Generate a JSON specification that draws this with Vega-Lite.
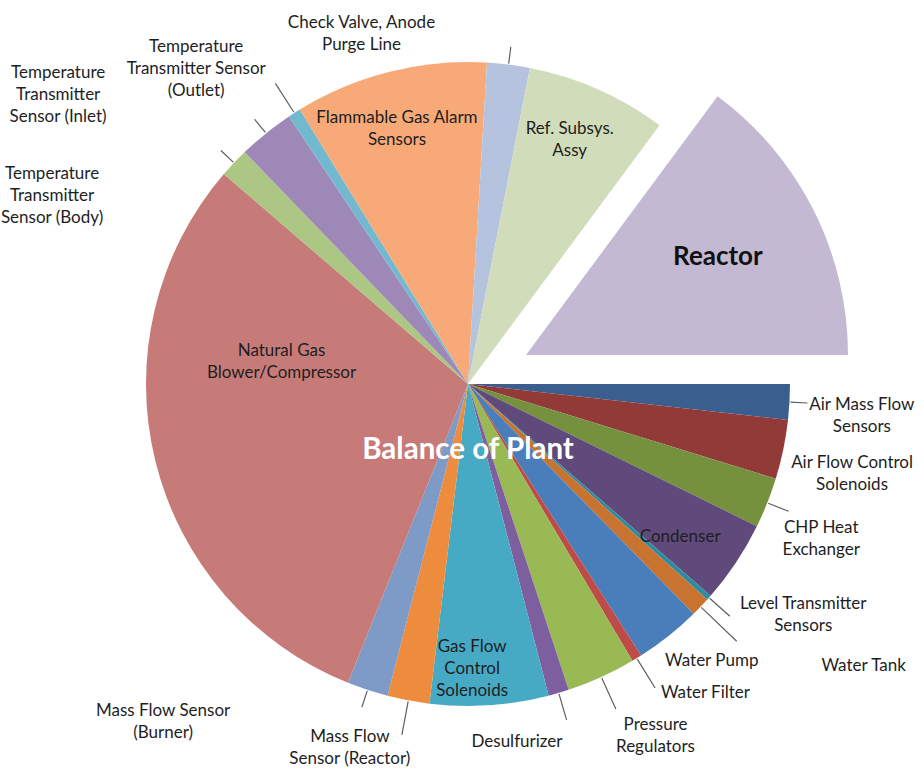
{
  "$schema": "https://vega.github.io/schema/vega-lite/v6.json",
  "width": 912,
  "height": 768,
  "autosize": "none",
  "padding": {"left": 12, "top": 0, "right": 0, "bottom": 4},
  "background": "white",
  "config": {
    "view": {"stroke": null},
    "text": {"font": "Lato", "fontSize": 17, "lineHeight": 22, "lineBreak": "\n", "color": "#1e1e1e", "align": "center", "baseline": "middle"}
  },
  "data": {
    "values": [
      {"order": 1, "part": "Air Mass Flow Sensors", "label": "Air Mass Flow\nSensors", "share": 1.78},
      {"order": 2, "part": "Air Flow Control Solenoids", "label": "Air Flow Control\nSolenoids", "share": 2.97},
      {"order": 3, "part": "CHP Heat Exchanger", "label": "CHP Heat\nExchanger", "share": 2.53},
      {"order": 4, "part": "Condenser", "label": "Condenser", "share": 4.14},
      {"order": 5, "part": "Level Transmitter Sensors", "label": "Level Transmitter\nSensors", "share": 0.25},
      {"order": 6, "part": "Water Tank", "label": "Water Tank", "share": 0.97},
      {"order": 7, "part": "Water Pump", "label": "Water Pump", "share": 3.33},
      {"order": 8, "part": "Water Filter", "label": "Water Filter", "share": 0.5},
      {"order": 9, "part": "Pressure Regulators", "label": "Pressure\nRegulators", "share": 3.47},
      {"order": 10, "part": "Desulfurizer", "label": "Desulfurizer", "share": 1.03},
      {"order": 11, "part": "Gas Flow Control Solenoids", "label": "Gas Flow\nControl\nSolenoids", "share": 5.94},
      {"order": 12, "part": "Mass Flow Sensor (Reactor)", "label": "Mass Flow\nSensor (Reactor)", "share": 2.11},
      {"order": 13, "part": "Mass Flow Sensor (Burner)", "label": "Mass Flow Sensor\n(Burner)", "share": 2.06},
      {"order": 14, "part": "Natural Gas Blower/Compressor", "label": "Natural Gas\nBlower/Compressor", "share": 30.22},
      {"order": 15, "part": "Temperature Transmitter Sensor (Body)", "label": "Temperature\nTransmitter\nSensor (Body)", "share": 1.5},
      {"order": 16, "part": "Temperature Transmitter Sensor (Inlet)", "label": "Temperature\nTransmitter\nSensor (Inlet)", "share": 2.81},
      {"order": 17, "part": "Temperature Transmitter Sensor (Outlet)", "label": "Temperature\nTransmitter Sensor\n(Outlet)", "share": 0.64},
      {"order": 18, "part": "Flammable Gas Alarm Sensors", "label": "Flammable Gas Alarm\nSensors", "share": 9.69},
      {"order": 19, "part": "Check Valve, Anode Purge Line", "label": "Check Valve, Anode\nPurge Line", "share": 2.14},
      {"order": 20, "part": "Ref. Subsys. Assy", "label": "Ref. Subsys.\nAssy", "share": 7.06},
      {"order": 21, "part": "Reactor", "label": "Reactor", "share": 14.86}
    ]
  },
  "transform": [
    {"stack": "share", "groupby": [], "sort": [{"field": "order", "order": "ascending"}], "as": ["s0", "s1"]},
    {"calculate": "(datum.s0 + datum.s1) / 2", "as": "mid"}
  ],
  "layer": [
    {
      "transform": [{"filter": "datum.part !== 'Reactor'"}],
      "mark": {"type": "arc", "outerRadius": 322, "stroke": null},
      "encoding": {
        "theta": {"field": "s0", "type": "quantitative", "stack": null, "scale": {"domain": [0, 100], "range": [1.5708, 7.854]}},
        "theta2": {"field": "s1"},
        "color": {
          "field": "part", "type": "nominal", "legend": null,
          "scale": {
            "domain": ["Air Mass Flow Sensors", "Air Flow Control Solenoids", "CHP Heat Exchanger", "Condenser", "Level Transmitter Sensors", "Water Tank", "Water Pump", "Water Filter", "Pressure Regulators", "Desulfurizer", "Gas Flow Control Solenoids", "Mass Flow Sensor (Reactor)", "Mass Flow Sensor (Burner)", "Natural Gas Blower/Compressor", "Temperature Transmitter Sensor (Body)", "Temperature Transmitter Sensor (Inlet)", "Temperature Transmitter Sensor (Outlet)", "Flammable Gas Alarm Sensors", "Check Valve, Anode Purge Line", "Ref. Subsys. Assy", "Reactor"],
            "range": ["#3A5F8F", "#923A38", "#76913E", "#5F4A7B", "#2E8CA0", "#C8732F", "#4A7EBB", "#BE4B48", "#98B954", "#7D5FA0", "#46AAC5", "#EE8C3D", "#7E9BC8", "#C77B79", "#ABC783", "#9E88B8", "#72B9D0", "#F7A977", "#B5C3DE", "#D1DDBA", "#C3B9D2"]
          }
        }
      }
    },
    {
      "transform": [{"filter": "datum.part === 'Reactor'"}],
      "mark": {"type": "arc", "outerRadius": 322, "stroke": null, "xOffset": 58, "yOffset": -29},
      "encoding": {
        "theta": {"field": "s0", "type": "quantitative", "stack": null, "scale": {"domain": [0, 100], "range": [1.5708, 7.854]}},
        "theta2": {"field": "s1"},
        "color": {"field": "part", "type": "nominal", "legend": null}
      }
    },
    {
      "transform": [{"filter": {"field": "part", "oneOf": ["Air Mass Flow Sensors", "Mass Flow Sensor (Burner)", "Temperature Transmitter Sensor (Body)", "Temperature Transmitter Sensor (Inlet)", "Check Valve, Anode Purge Line"]}}],
      "mark": {"type": "arc", "outerRadius": 340, "innerRadius": 323, "filled": false, "stroke": "#5f5f5f", "strokeWidth": 1.2},
      "encoding": {"theta": {"field": "mid", "type": "quantitative", "stack": null}, "theta2": {"field": "mid"}}
    },
    {
      "transform": [{"filter": {"field": "part", "oneOf": ["CHP Heat Exchanger"]}}],
      "mark": {"type": "arc", "outerRadius": 345, "innerRadius": 323, "filled": false, "stroke": "#5f5f5f", "strokeWidth": 1.2},
      "encoding": {"theta": {"field": "mid", "type": "quantitative", "stack": null}, "theta2": {"field": "mid"}}
    },
    {
      "transform": [{"filter": {"field": "part", "oneOf": ["Level Transmitter Sensors", "Desulfurizer"]}}],
      "mark": {"type": "arc", "outerRadius": 350, "innerRadius": 323, "filled": false, "stroke": "#5f5f5f", "strokeWidth": 1.2},
      "encoding": {"theta": {"field": "mid", "type": "quantitative", "stack": null}, "theta2": {"field": "mid"}}
    },
    {
      "transform": [{"filter": {"field": "part", "oneOf": ["Water Filter", "Pressure Regulators", "Mass Flow Sensor (Reactor)", "Temperature Transmitter Sensor (Outlet)"]}}],
      "mark": {"type": "arc", "outerRadius": 357, "innerRadius": 323, "filled": false, "stroke": "#5f5f5f", "strokeWidth": 1.2},
      "encoding": {"theta": {"field": "mid", "type": "quantitative", "stack": null}, "theta2": {"field": "mid"}}
    },
    {
      "transform": [{"filter": {"field": "part", "equal": "Water Tank"}}],
      "mark": {"type": "arc", "outerRadius": 372, "innerRadius": 323, "filled": false, "stroke": "#5f5f5f", "strokeWidth": 1.2},
      "encoding": {"theta": {"field": "mid", "type": "quantitative", "stack": null}, "theta2": {"field": "mid"}}
    },
    {"transform": [{"filter": {"field": "part", "equal": "Air Mass Flow Sensors"}}], "mark": {"type": "text", "radius": 395, "thetaOffset": 0.02, "dy": -9}, "encoding": {"theta": {"field": "mid", "type": "quantitative", "stack": null}, "text": {"field": "label"}}},
    {"transform": [{"filter": {"field": "part", "equal": "Air Flow Control Solenoids"}}], "mark": {"type": "text", "radius": 394, "thetaOffset": 0.02, "dy": -9}, "encoding": {"theta": {"field": "mid", "type": "quantitative", "stack": null}, "text": {"field": "label"}}},
    {"transform": [{"filter": {"field": "part", "equal": "CHP Heat Exchanger"}}], "mark": {"type": "text", "radius": 385, "thetaOffset": 0.031, "dy": -9}, "encoding": {"theta": {"field": "mid", "type": "quantitative", "stack": null}, "text": {"field": "label"}}},
    {"transform": [{"filter": {"field": "part", "equal": "Condenser"}}], "mark": {"type": "text", "radius": 261, "thetaOffset": 0.034, "dy": 1}, "encoding": {"theta": {"field": "mid", "type": "quantitative", "stack": null}, "text": {"field": "label"}}},
    {"transform": [{"filter": {"field": "part", "equal": "Level Transmitter Sensors"}}], "mark": {"type": "text", "radius": 406, "thetaOffset": -0.126, "dy": -9}, "encoding": {"theta": {"field": "mid", "type": "quantitative", "stack": null}, "text": {"field": "label"}}},
    {"transform": [{"filter": {"field": "part", "equal": "Water Tank"}}], "mark": {"type": "text", "radius": 485, "thetaOffset": -0.147, "dy": 1}, "encoding": {"theta": {"field": "mid", "type": "quantitative", "stack": null}, "text": {"field": "label"}}},
    {"transform": [{"filter": {"field": "part", "equal": "Water Pump"}}], "mark": {"type": "text", "radius": 368, "thetaOffset": -0.052, "dy": 1}, "encoding": {"theta": {"field": "mid", "type": "quantitative", "stack": null}, "text": {"field": "label"}}},
    {"transform": [{"filter": {"field": "part", "equal": "Water Filter"}}], "mark": {"type": "text", "radius": 389, "thetaOffset": -0.105, "dy": 1}, "encoding": {"theta": {"field": "mid", "type": "quantitative", "stack": null}, "text": {"field": "label"}}},
    {"transform": [{"filter": {"field": "part", "equal": "Pressure Regulators"}}], "mark": {"type": "text", "radius": 397, "thetaOffset": -0.065, "dy": -9}, "encoding": {"theta": {"field": "mid", "type": "quantitative", "stack": null}, "text": {"field": "label"}}},
    {"transform": [{"filter": {"field": "part", "equal": "Desulfurizer"}}], "mark": {"type": "text", "radius": 360, "thetaOffset": 0.149, "dy": 1}, "encoding": {"theta": {"field": "mid", "type": "quantitative", "stack": null}, "text": {"field": "label"}}},
    {"transform": [{"filter": {"field": "part", "equal": "Gas Flow Control Solenoids"}}], "mark": {"type": "text", "radius": 283, "thetaOffset": 0.052, "dy": -20}, "encoding": {"theta": {"field": "mid", "type": "quantitative", "stack": null}, "text": {"field": "label"}}},
    {"transform": [{"filter": {"field": "part", "equal": "Mass Flow Sensor (Reactor)"}}], "mark": {"type": "text", "radius": 381, "thetaOffset": 0.129, "dy": -9}, "encoding": {"theta": {"field": "mid", "type": "quantitative", "stack": null}, "text": {"field": "label"}}},
    {"transform": [{"filter": {"field": "part", "equal": "Mass Flow Sensor (Burner)"}}], "mark": {"type": "text", "radius": 454, "thetaOffset": 0.419, "dy": -9}, "encoding": {"theta": {"field": "mid", "type": "quantitative", "stack": null}, "text": {"field": "label"}}},
    {"transform": [{"filter": {"field": "part", "equal": "Natural Gas Blower/Compressor"}}], "mark": {"type": "text", "radius": 188, "thetaOffset": 0.367, "dy": -9}, "encoding": {"theta": {"field": "mid", "type": "quantitative", "stack": null}, "text": {"field": "label"}}},
    {"transform": [{"filter": {"field": "part", "equal": "Temperature Transmitter Sensor (Body)"}}], "mark": {"type": "text", "radius": 457, "thetaOffset": -0.33, "dy": -21}, "encoding": {"theta": {"field": "mid", "type": "quantitative", "stack": null}, "text": {"field": "label"}}},
    {"transform": [{"filter": {"field": "part", "equal": "Temperature Transmitter Sensor (Inlet)"}}], "mark": {"type": "text", "radius": 502, "thetaOffset": -0.277, "dy": -21}, "encoding": {"theta": {"field": "mid", "type": "quantitative", "stack": null}, "text": {"field": "label"}}},
    {"transform": [{"filter": {"field": "part", "equal": "Temperature Transmitter Sensor (Outlet)"}}], "mark": {"type": "text", "radius": 417, "thetaOffset": -0.14, "dy": -21}, "encoding": {"theta": {"field": "mid", "type": "quantitative", "stack": null}, "text": {"field": "label"}}},
    {"transform": [{"filter": {"field": "part", "equal": "Flammable Gas Alarm Sensors"}}], "mark": {"type": "text", "radius": 267, "thetaOffset": -0.024, "dy": -9}, "encoding": {"theta": {"field": "mid", "type": "quantitative", "stack": null}, "text": {"field": "label"}}},
    {"transform": [{"filter": {"field": "part", "equal": "Check Valve, Anode Purge Line"}}], "mark": {"type": "text", "radius": 368, "thetaOffset": -0.42, "dy": -9}, "encoding": {"theta": {"field": "mid", "type": "quantitative", "stack": null}, "text": {"field": "label"}}},
    {"transform": [{"filter": {"field": "part", "equal": "Ref. Subsys. Assy"}}], "mark": {"type": "text", "radius": 266, "thetaOffset": -0.023, "dy": -9}, "encoding": {"theta": {"field": "mid", "type": "quantitative", "stack": null}, "text": {"field": "label"}}},
    {"transform": [{"filter": {"field": "part", "equal": "Reactor"}}], "mark": {"type": "text", "radius": 216, "thetaOffset": -0.01, "xOffset": 58, "yOffset": -29, "dy": 1, "fontSize": 26, "fontWeight": "bold", "color": "#111"}, "encoding": {"theta": {"field": "mid", "type": "quantitative", "stack": null}, "text": {"field": "label"}}},
    {"transform": [{"filter": {"field": "part", "equal": "Natural Gas Blower/Compressor"}}], "mark": {"type": "text", "text": "Balance of Plant", "dy": 66, "fontSize": 29.5, "fontWeight": "bold", "color": "white"}, "encoding": {}}
  ]
}
